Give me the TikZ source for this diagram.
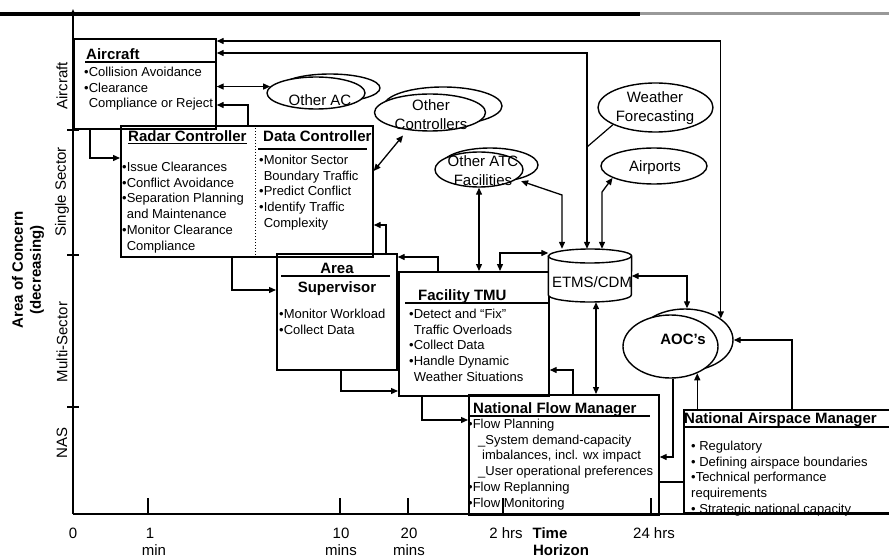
\documentclass[tikz,border=0pt]{standalone}
\usepackage{fontspec}
\setmainfont{Liberation Sans}
\usetikzlibrary{arrows.meta,positioning,shapes.geometric,calc}

\tikzset{
  box/.style={draw, line width=1.7pt, inner sep=0pt, anchor=north west},
  oval/.style={ellipse, draw, line width=1.4pt, fill=white, inner sep=0pt},
  txt/.style={inner sep=0pt, anchor=north west, align=left, font=\fontsize{13}{15.8}\selectfont},
  ttl/.style={inner sep=0pt, anchor=base west, font=\fontsize{15}{18}\selectfont\bfseries},
  otxt/.style={inner sep=0pt, align=center, font=\fontsize{15}{19}\selectfont},
  lbl/.style={inner sep=0pt, font=\fontsize{15}{18}\selectfont},
  flow/.style={-{Triangle[length=7pt,width=6pt]}, line width=1.3pt},
  bi/.style={{Triangle[length=7pt,width=6pt]}-{Triangle[length=7pt,width=6pt]}, line width=1.3pt},
  rule/.style={line width=1.2pt},
  axis/.style={line width=1.5pt},
  drum/.style={line width=1.4pt},
}

\begin{document}
\begin{tikzpicture}[x=1pt, y=-1pt]
\useasboundingbox (0,0) rectangle (889,559);
\clip (0,0) rectangle (889,559);

% --- axes
\draw[line width=4pt] (0,14) -- (640,14);
\draw[line width=3pt, black!40] (640,14) -- (889,14);
\draw[axis, -{Triangle[length=6pt,width=5pt]}] (73,514) -- (73,9);
\draw[axis] (73,514) -- (889,514);
\foreach \y in {130,255,407} \draw[axis] (67,\y) -- (79,\y);
\foreach \x in {148,340,408,503,651} \draw[axis] (\x,498) -- (\x,514);

\node[lbl, rotate=90] (yAir) at (62,86) {Aircraft};
\node[lbl, rotate=90] (ySgl) at (62,192) {Single Sector};
\node[lbl, rotate=90] (yMul) at (62,342) {Multi-Sector};
\node[lbl, rotate=90] (yNas) at (62,443) {NAS};
\node[lbl, rotate=90, align=center, font=\fontsize{15}{18}\selectfont\bfseries] (yTtl) at (28,270)
    {Area of Concern\\(decreasing)};

\node[lbl] (x0) at (73,533) {0};
\node[lbl] (x1) at (150,533) {1};
\node[lbl] (x1u) at (154,550) {min};
\node[lbl] (x10) at (341,533) {10};
\node[lbl] (x10u) at (341,550) {mins};
\node[lbl] (x20) at (409,533) {20};
\node[lbl] (x20u) at (409,550) {mins};
\node[lbl] (x2h) at (506,533) {2 hrs};
\node[lbl, font=\fontsize{15}{18}\selectfont\bfseries] (xTtl) at (550,533) {Time};
\node[lbl, font=\fontsize{15}{18}\selectfont\bfseries] (xTtl2) at (561,550) {Horizon};
\node[lbl] (x24h) at (654,533) {24 hrs};

% --- boxes
\node[box, minimum width=142, minimum height=90] (air) at (73,38) {};
\node[box, minimum width=252, minimum height=131] (rdc) at (120,125) {};
\node[box, minimum width=120, minimum height=116] (asup) at (276,253) {};
\node[box, minimum width=150, minimum height=124] (tmu) at (398,271) {};
\node[box, minimum width=190, minimum height=120] (nfm) at (468,394) {};
\node[box, minimum width=212, minimum height=103] (nam) at (683,409) {};

% Aircraft
\node[ttl] (airT) at (86,60) {Aircraft};
\draw[rule] (85,62) -- (air.east |- 0,62);
\node[txt] (airL) at (84,66.6) {•Collision Avoidance\\•Clearance\\\hspace*{4.6pt}Compliance or Reject};

% Radar / Data controller
\node[ttl] (rdcT) at (128,142) {\underline{Radar Controller}};
\node[ttl] (dctT) at (263,142) {Data Controller};
\draw[rule] (258,149) -- (367,149);
\draw[dotted, line width=1pt] (255,0 |- rdc.north) -- (255,0 |- rdc.south);
\node[txt] (rdcL) at (122,161.6) {•Issue Clearances\\•Conflict Avoidance\\•Separation Planning\\\hspace*{4.6pt}and Maintenance\\•Monitor Clearance\\\hspace*{4.6pt}Compliance};
\node[txt] (dctL) at (259,154.6) {•Monitor Sector\\\hspace*{4.6pt}Boundary Traffic\\•Predict Conflict\\•Identify Traffic\\\hspace*{4.6pt}Complexity};

% Area supervisor
\node[ttl, anchor=base] (asupT) at (337,273) {Area};
\draw[rule] (281,276) -- (390,276);
\node[ttl, anchor=base] (asupT2) at (337,292) {Supervisor};
\node[txt] (asupL) at (279,308.6) {•Monitor Workload\\•Collect Data};

% Facility TMU
\node[ttl] (tmuT) at (418,300) {Facility TMU};
\draw[rule] (405,303) -- (tmu.east |- 0,303);
\node[txt] (tmuL) at (409,308.6) {•Detect and “Fix”\\\hspace*{4.6pt}Traffic Overloads\\•Collect Data\\•Handle Dynamic\\\hspace*{4.6pt}Weather Situations};

% National flow manager
\node[ttl] (nfmT) at (473,413) {National Flow Manager};
\draw[rule] (470,416) -- (650,416);
\node[txt] (nfmL) at (468,418.6) {•Flow Planning\\\hspace*{10pt}\_System demand-capacity\\\hspace*{14pt}imbalances, incl. wx impact\\\hspace*{10pt}\_User operational preferences\\•Flow Replanning\\•Flow Monitoring};

% National airspace manager
\node[ttl] (namT) at (684,423) {National Airspace Manager};
\draw[rule] (nam.west |- 0,427) -- (889,427);
\node[txt] (namL) at (691,440.6) {• Regulatory\\• Defining airspace boundaries\\•Technical performance\\requirements\\• Strategic national capacity};

% --- ovals
\node[oval, minimum width=100, minimum height=28] (oacB) at (330,88) {};
\node[oval, minimum width=98, minimum height=32] (oac) at (316,93) {};
\node[otxt] at (320,100) {Other AC};

\node[oval, minimum width=118, minimum height=38] (octlB) at (443,106) {};
\node[oval, minimum width=111, minimum height=37] (octl) at (430,112.5) {};
\node[otxt] at (431,115) {Other\\Controllers};

\node[oval, minimum width=96, minimum height=34] (oatcB) at (490,165) {};
\node[oval, minimum width=88, minimum height=35] (oatc) at (479,169.5) {};
\node[otxt] at (483,171) {Other ATC\\Facilities};

\node[oval, minimum width=115, minimum height=49] (wx) at (655.5,107.5) {};
\node[otxt] at (655,108) {Weather\\Forecasting};

\node[oval, minimum width=106, minimum height=36] (apt) at (654,166) {};
\node[otxt] at (655,168) {Airports};

\node[oval, minimum width=96, minimum height=62] (aocB) at (685,340) {};
\node[oval, minimum width=95, minimum height=63] (aoc) at (670.5,346.5) {};
\node[otxt, font=\fontsize{15}{19}\selectfont\bfseries] at (683,339) {AOC’s};

% ETMS/CDM data store
\node[minimum width=83, minimum height=53, inner sep=0pt] (etms) at (590,275.5) {};
\draw[drum, fill=white] (etms.west |- 0,256) -- (etms.west |- 0,295)
    arc[start angle=180, end angle=360, x radius=41.5pt, y radius=7pt]
    -- (etms.east |- 0,256)
    arc[start angle=0, end angle=180, x radius=41.5pt, y radius=7pt] -- cycle;
\draw[drum] (etms.west |- 0,256) arc[start angle=180, end angle=360, x radius=41.5pt, y radius=7pt];
\node[otxt] at (592,282) {ETMS/CDM};

% --- connectors
\coordinate (k1) at (562,195);
\coordinate (k2) at (602,192);
\coordinate (k3) at (587,147);
\draw[bi] ($(air.north east)+(0,3)$) -| (aocB.31);
\draw[bi] ($(air.north east)+(0,15)$) -| (587,0 |- etms.north);
\draw[rule] (wx.202) -- (k3);
\draw[bi] (air.east |- oac.172) -- (oac.172);
\draw[flow] (248,0 |- rdc.north) |- (air.east |- 0,105);
\draw[flow] (90,0 |- air.south) |- (rdc.west |- 0,158);
\draw[bi, shorten >=7pt] (rdc.east |- 0,171) -- (octl.218);
\draw[flow] (386,0 |- asup.north) |- (rdc.east |- 0,225);
\draw[flow] (232,0 |- rdc.south) |- (asup.west |- 0,290);
\draw[flow] (438,0 |- tmu.north) |- (asup.east |- 0,257);
\draw[bi] (oatc.south) -- (oatc.south |- tmu.north);
\draw[bi] (500,0 |- tmu.north) |- (etms.west |- 0,253);
\draw[bi, shorten <=5pt] (oatc.-15) -- (k1) -- (562,0 |- etms.north);
\draw[bi] (apt.196) -- (k2) -- (602,0 |- etms.north);
\draw[bi] (etms.east |- 0,276) -| (687,0 |- aocB.north);
\draw[bi] (596,0 |- etms.south) -- (596,0 |- nfm.north);
\draw[flow] (573,0 |- nfm.north) |- (tmu.east |- 0,370);
\draw[flow] (422,0 |- tmu.south) |- (nfm.west |- 0,420);
\draw[flow] (341,0 |- asup.south) |- (tmu.west |- 0,391);
\draw[flow] (673,0 |- aoc.south) |- (nfm.east |- 0,457);
\draw[flow] (nam.north -| aoc.-45) -- (aoc.-45);
\draw[flow] (792,0 |- nam.north) |- (aocB.east);
\draw[rule] (nfm.east |- 0,482) -- (nam.west |- 0,482);
\end{tikzpicture}
\end{document}
